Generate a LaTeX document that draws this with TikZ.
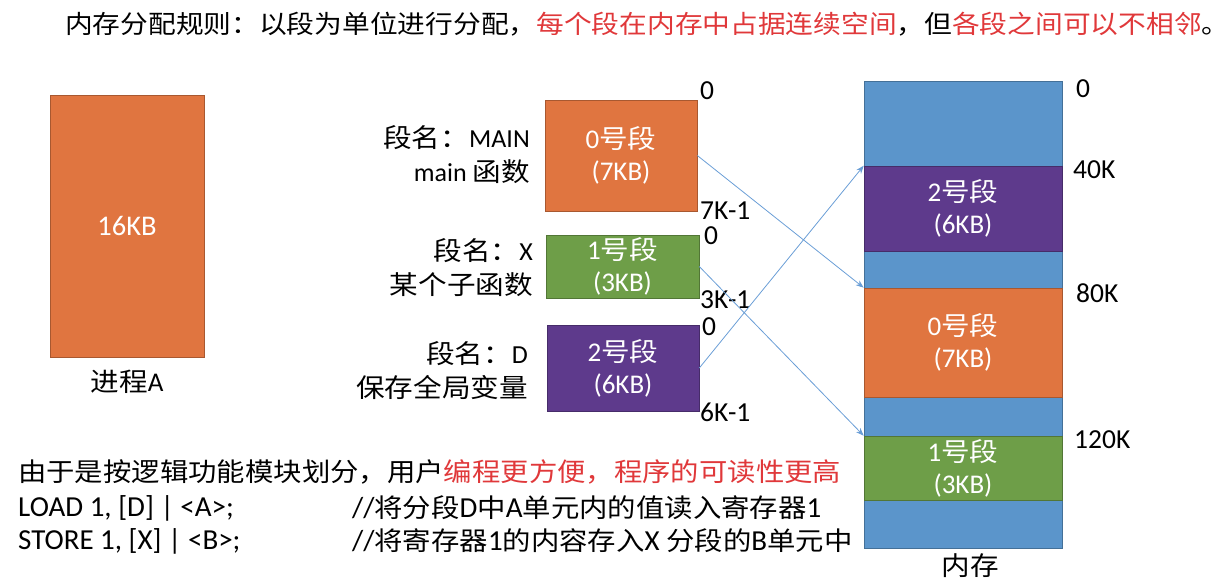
\documentclass[tikz,border=0pt]{standalone}
\usepackage{fontspec}
\setmainfont{Carlito}
\newfontfamily\cjk{Noto Sans CJK SC}[FakeStretch=1.1]
\usetikzlibrary{arrows.meta}
\definecolor{segorange}{HTML}{E07540}
\definecolor{seggreen}{HTML}{6E9E48}
\definecolor{segpurple}{HTML}{5E3A8C}
\definecolor{memblue}{HTML}{5B95CB}
\definecolor{hlred}{HTML}{E0383A}
\definecolor{linkblue}{HTML}{6A9ED6}
\newcommand\myfs[2]{\fontsize{#1}{#2}\selectfont}
\newcommand\zhs[1]{{\cjk\myfs{25.8}{30}#1}}
\newcommand\zhb[1]{{\cjk\myfs{26}{32}#1}}
\begin{document}
\begin{tikzpicture}[x=1pt,y=-1pt,
  box/.style={draw=#1!75!black, fill=#1, line width=0.6pt, inner sep=0pt,
    text=white, align=center, font=\myfs{27}{32}},
  lbl/.style={inner sep=0pt, align=right, font=\myfs{26}{34}, anchor=east},
  num/.style={inner sep=0pt, font=\myfs{27.5}{30}, anchor=west},
  txt/.style={inner sep=0pt, font=\myfs{29}{30}, anchor=west},
  link/.style={draw=linkblue, line width=0.8pt, -{Stealth[length=8pt,width=6pt]}},
]
\useasboundingbox (0,0) rectangle (1228,581);

% top rule line
\node[txt, font=\myfs{25.2}{30}] (rule) at (65,24)
  {\cjk 内存分配规则：以段为单位进行分配，\textcolor{hlred}{每个段在内存中占据连续空间}，但\textcolor{hlred}{各段之间可以不相邻}。};

% process A
\node[box=segorange, minimum width=154pt, minimum height=262pt, font=\myfs{28.5}{30}] (proc) at (127,226) {16KB};
\node[inner sep=0pt, font=\myfs{27}{30}] (procl) at (127,382) {\zhb{进程}A};

% segments
\node[box=segorange, minimum width=152pt, minimum height=111pt] (s0) at (621,155.5) {0\zhb{号段}\\(7KB)};
\node[box=seggreen, minimum width=153pt, minimum height=63pt] (s1) at (622.5,266.5) {1\zhb{号段}\\(3KB)};
\node[box=segpurple, minimum width=152pt, minimum height=86pt] (s2) at (623,368) {2\zhb{号段}\\(6KB)};

% segment names
\node[lbl] (n0) at (530,155) {{\cjk 段名：}MAIN\\main {\cjk 函数}};
\node[lbl] (n1) at (533,268) {{\cjk 段名：}X\\{\cjk 某个子函数}};
\node[lbl] (n2) at (528,371) {{\cjk 段名：}D\\{\cjk 保存全局变量}};

% segment address labels
\node[num] (a00) at (700,91) {0};
\node[num] (a01) at (700,211) {7K-1};
\node[num] (a10) at (704,236) {0};
\node[num] (a11) at (700,300) {3K-1};
\node[num] (a20) at (702,327) {0};
\node[num] (a21) at (700,412) {6K-1};

% memory
\node[box=memblue, minimum width=198pt, minimum height=467pt] (mem) at (963,314.5) {};
\node[box=segpurple, minimum width=198pt, minimum height=85pt] (m2) at (963,208.5) {2\zhb{号段}\\(6KB)};
\node[box=segorange, minimum width=198pt, minimum height=109pt] (m0) at (963,342.5) {0\zhb{号段}\\(7KB)};
\node[box=seggreen, minimum width=198pt, minimum height=64pt] (m1) at (963,468) {1\zhb{号段}\\(3KB)};
\node[inner sep=0pt, font=\myfs{26}{30}] (meml) at (970,566) {\cjk 内存};

\node[num] (b0) at (1076,89) {0};
\node[num] (b40) at (1073,170) {40K};
\node[num] (b80) at (1076,293) {80K};
\node[num] (b120) at (1074,440) {120K};

% links
\draw[link] (s0.east) -- (m0.north west);
\draw[link] (s1.east) -- (m1.north west);
\draw[link] (s2.east) -- (m2.north west);

% bottom text
\node[txt] (t1) at (18,472) {\zhs{由于是按逻辑功能模块划分，用户\textcolor{hlred}{编程更方便，程序的可读性更高}}};
\node[txt] (t2) at (18,508) {LOAD 1, [D] | <A>;};
\node[txt] (t2c) at (352,508) {//\zhs{将分段}D\zhs{中}A\zhs{单元内的值读入寄存器}1};
\node[txt] (t3) at (18,541) {STORE 1, [X] | <B>;};
\node[txt] (t3c) at (352,541) {//\zhs{将寄存器}1\zhs{的内容存入}X \zhs{分段的}B\zhs{单元中}};
\end{tikzpicture}
\end{document}
